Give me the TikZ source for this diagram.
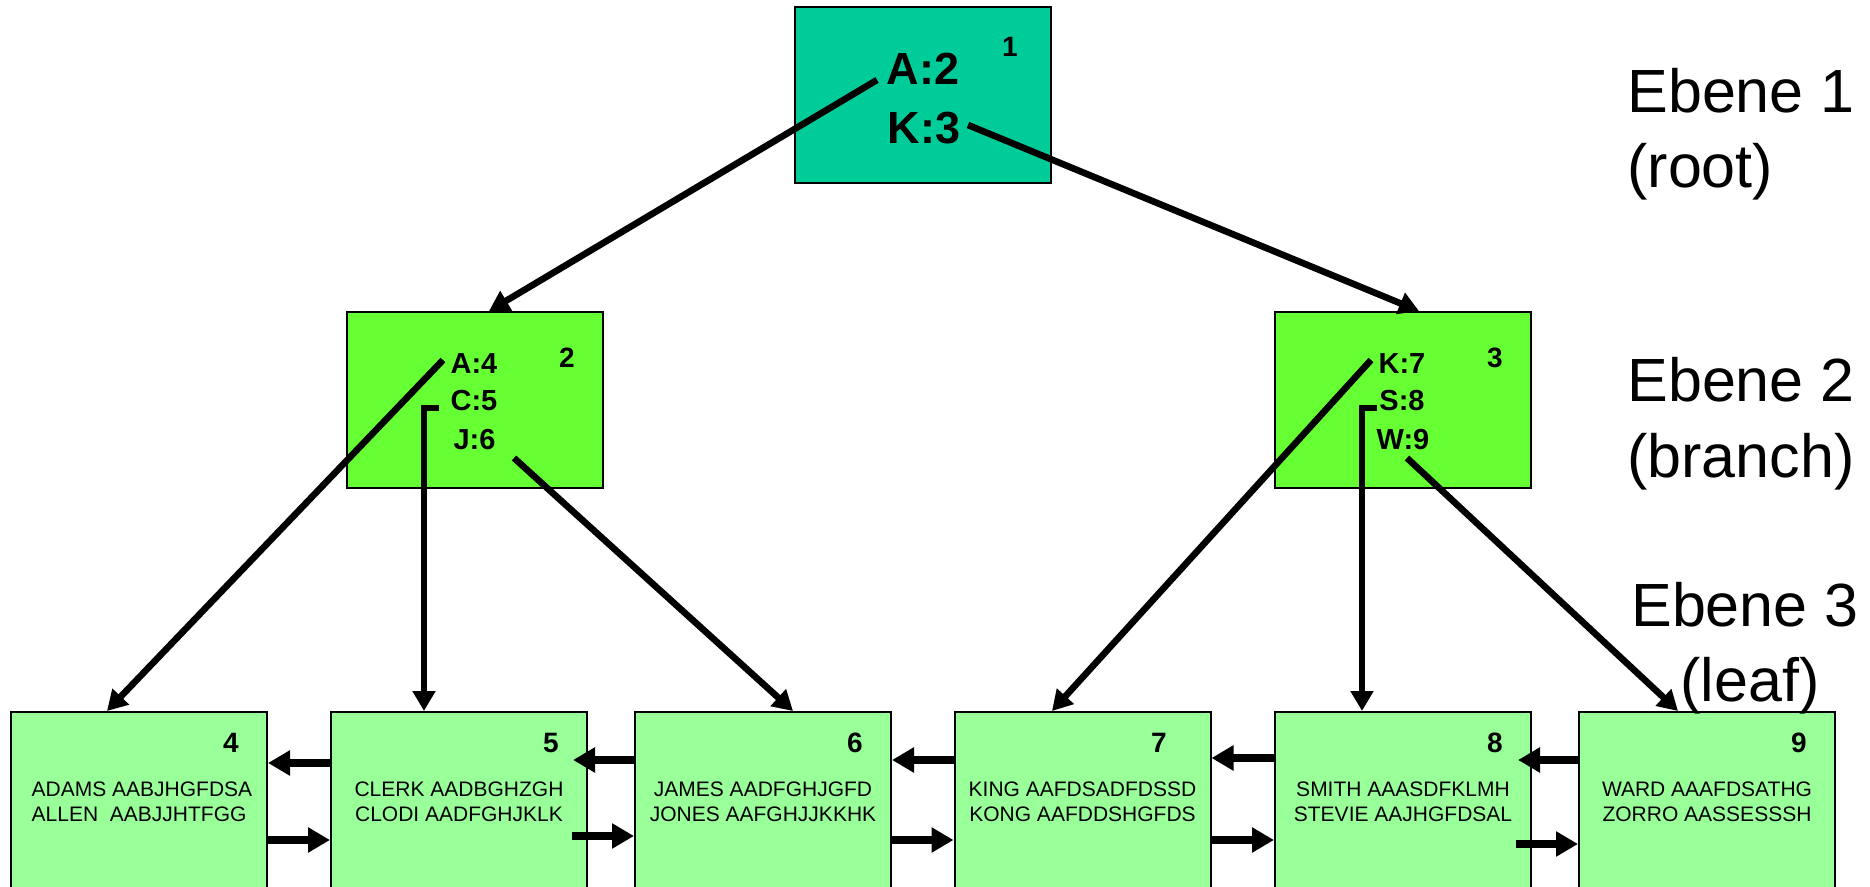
\documentclass[tikz,border=0pt]{standalone}
\usepackage{fontspec}
\setmainfont{Liberation Sans}
\usetikzlibrary{arrows.meta}
\definecolor{rootgreen}{HTML}{00CC99}
\definecolor{branchgreen}{HTML}{66FF33}
\definecolor{leafgreen}{HTML}{99FF99}
\begin{document}
\begin{tikzpicture}[x=0.5pt,y=-0.5pt,
 box/.style={draw=black, line width=1pt, rectangle, minimum width=128pt, inner sep=0pt},
 rootbox/.style={box, fill=rootgreen, minimum height=88pt},
 branchbox/.style={box, fill=branchgreen, minimum height=88pt},
 leafbox/.style={box, fill=leafgreen, minimum height=94pt},
 rootkey/.style={font=\fontsize{22.5}{27}\selectfont\bfseries, inner sep=0pt},
 branchkey/.style={font=\fontsize{14.5}{17}\selectfont\bfseries, inner sep=0pt},
 num/.style={font=\fontsize{14}{17}\selectfont\bfseries, inner sep=0pt},
 leaftext/.style={font=\fontsize{10.5}{12.5}\selectfont, align=center, inner sep=0pt, anchor=north},
 level/.style={font=\fontsize{30.5}{37}\selectfont, inner sep=0pt},
 treeline/.style={line width=3.3pt, -{Triangle[length=10pt,width=11pt]}},
 chain/.style={line width=3.8pt, -{Triangle[length=11pt,width=12pt]}},
]
\useasboundingbox (0,0) rectangle (1870,887);
\clip (0,0) rectangle (1870,887);

% boxes
\node[rootbox] (n1) at (923,95) {};
\node[branchbox] (n2) at (475,400) {};
\node[branchbox] (n3) at (1402.5,400) {};
\node[leafbox] (n4) at (139,806) {};
\node[leafbox] (n5) at (459,806) {};
\node[leafbox] (n6) at (763,806) {};
\node[leafbox] (n7) at (1082.5,806) {};
\node[leafbox] (n8) at (1403,806) {};
\node[leafbox] (n9) at (1707,806) {};

% keys and numbers
\node[rootkey] (kA2) at (923,69) {A:2};
\node[rootkey] (kK3) at (924,128) {K:3};
\node[num] (m1) at (1010,47) {1};

\node[branchkey] (kA4) at (474,364) {A:4};
\node[branchkey] (kC5) at (474,401) {C:5};
\node[branchkey] (kJ6) at (474.5,440) {J:6};
\node[num] (m2) at (567,358) {2};

\node[branchkey] (kK7) at (1402,364) {K:7};
\node[branchkey] (kS8) at (1402,401) {S:8};
\node[branchkey] (kW9) at (1403,440) {W:9};
\node[num] (m3) at (1495,358) {3};

\node[num] (m4) at (231,743) {4};
\node[num] (m5) at (551,743) {5};
\node[num] (m6) at (855,743) {6};
\node[num] (m7) at (1159,743) {7};
\node[num] (m8) at (1495,743) {8};
\node[num] (m9) at (1799,743) {9};

\node[leaftext, align=left] (t4) at (142,781) {ADAMS AABJHGFDSA\\ALLEN\ \ AABJJHTFGG};
\node[leaftext] (t5) at (459,781) {CLERK AADBGHZGH\\CLODI AADFGHJKLK};
\node[leaftext] (t6) at (763,781) {JAMES AADFGHJGFD\\JONES AAFGHJJKKHK};
\node[leaftext] (t7) at (1082.5,781) {KING AAFDSADFDSSD\\KONG AAFDDSHGFDS};
\node[leaftext] (t8) at (1403,781) {SMITH AAASDFKLMH\\STEVIE AAJHGFDSAL};
\node[leaftext] (t9) at (1707,781) {WARD AAAFDSATHG\\ZORRO AASSESSSH};

% tree connectors
\coordinate (s1) at (877,80);
\coordinate (s2) at (968,125);
\coordinate (s3) at (443,360);
\coordinate (s4) at (439,408);
\coordinate (s5) at (514,458);
\coordinate (s6) at (1371,360);
\coordinate (s7) at (1377,408);
\coordinate (s8) at (1407,458);
\draw[treeline] (s1) -- ([xshift=7pt]n2.north);
\draw[treeline] (s2) -- ([xshift=8.25pt]n3.north);
\draw[treeline] (s3) -- ([xshift=-16pt]n4.north);
\draw[treeline] (s4) -- ++(-15,0) -- ([xshift=-17.5pt]n5.north);
\draw[treeline] (s5) -- ([xshift=15pt]n6.north);
\draw[treeline] (s6) -- ([xshift=-15.25pt]n7.north);
\draw[treeline] (s7) -- ++(-15,0) -- ([xshift=-20.5pt]n8.north);
\draw[treeline] (s8) -- ([xshift=-14.5pt]n9.north);

% leaf chain
\draw[chain] (n5.west |- 0,763) -- (n4.east |- 0,763);
\draw[chain] (n4.east |- 0,840) -- (n5.west |- 0,840);
\draw[chain, shorten >=-7.5pt] (n6.west |- 0,760) -- (n5.east |- 0,760);
\draw[chain, shorten <=-8pt] (n5.east |- 0,836) -- (n6.west |- 0,836);
\draw[chain] (n7.west |- 0,760) -- (n6.east |- 0,760);
\draw[chain] (n6.east |- 0,840) -- (n7.west |- 0,840);
\draw[chain] (n8.west |- 0,758) -- (n7.east |- 0,758);
\draw[chain] (n7.east |- 0,840) -- (n8.west |- 0,840);
\draw[chain, shorten >=-7pt] (n9.west |- 0,760) -- (n8.east |- 0,760);
\draw[chain, shorten <=-8pt] (n8.east |- 0,844) -- (n9.west |- 0,844);

% level labels
\node[level, anchor=base west] (e1) at (1627,113) {Ebene 1};
\node[level, anchor=base west] (e1b) at (1627,188) {(root)};
\node[level, anchor=base west] (e2) at (1627,402) {Ebene 2};
\node[level, anchor=base west] (e2b) at (1627,478) {(branch)};
\node[level, anchor=base] (e3) at (1745,626) {Ebene 3};
\node[level, anchor=base] (e3b) at (1750,701) {(leaf)};
\end{tikzpicture}
\end{document}
